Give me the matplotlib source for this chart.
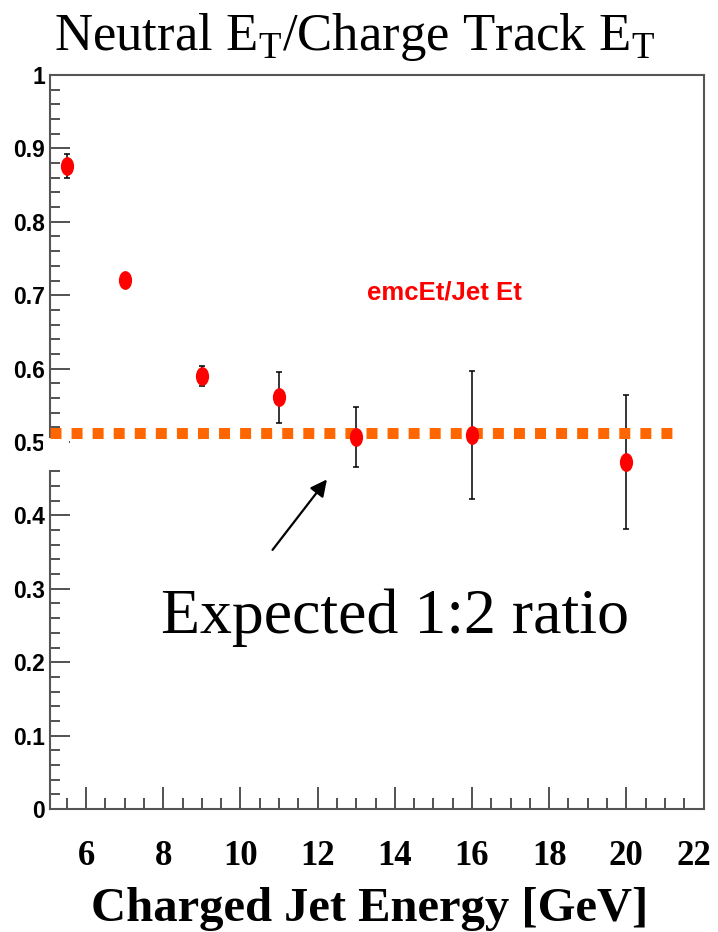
import matplotlib
matplotlib.use("Agg")
import matplotlib.pyplot as plt
from matplotlib.markers import MarkerStyle
from matplotlib.patches import Rectangle
from matplotlib.transforms import Affine2D, ScaledTranslation, blended_transform_factory
from matplotlib.ticker import MultipleLocator, FuncFormatter

# -------------------------------
# Data
# -------------------------------
jet_energy = [5.5, 7.0, 9.0, 11.0, 13.0, 16.0, 20.0]
emc_ratio = [0.876, 0.721, 0.590, 0.561, 0.507, 0.510, 0.473]
emc_err = [0.016, 0.006, 0.014, 0.035, 0.041, 0.087, 0.091]

expected_ratio = 0.512
expected_span = [5.05, 21.3]

# -------------------------------
# Style
# -------------------------------
plt.rcParams["mathtext.fontset"] = "custom"
plt.rcParams["mathtext.rm"] = "Liberation Serif"

serif = "Liberation Serif"
sans = ["Liberation Sans", "DejaVu Sans"]
axis_grey = "#555555"

fig = plt.figure(figsize=(7.18, 9.32), dpi=100)
ax = fig.add_axes([49.5 / 718, 1 - 809 / 932, 654 / 718, 734 / 932])

ax.set_xlim(5.05, 22)
ax.set_ylim(0, 1.0)

# expected 1:2 line
ax.plot(expected_span, [expected_ratio, expected_ratio],
        color="#FF6600", linewidth=7.9, linestyle=(0, (1.0, 0.92)),
        dash_capstyle="butt", zorder=6, clip_on=False)

# points with errors
ax.errorbar(jet_energy, emc_ratio, yerr=emc_err, fmt="none",
            ecolor="black", elinewidth=1.1, capsize=2.5, capthick=1.1,
            zorder=3)
ellipse = MarkerStyle("o", transform=Affine2D().scale(0.68, 1.0))
ax.plot(jet_energy, emc_ratio, linestyle="none", marker=ellipse,
        markersize=12.5, color="red", markeredgecolor="red", zorder=7)

# -------------------------------
# Axes / ticks
# -------------------------------
ax.xaxis.set_major_locator(MultipleLocator(2))
ax.xaxis.set_minor_locator(MultipleLocator(0.5))
ax.yaxis.set_major_locator(MultipleLocator(0.1))
ax.yaxis.set_minor_locator(MultipleLocator(0.02))
ax.yaxis.set_major_formatter(FuncFormatter(lambda v, p: f"{round(v, 2):g}"))
ax.xaxis.set_major_formatter(FuncFormatter(lambda v, p: f"{int(round(v))}"))

ax.tick_params(which="both", direction="in", top=False, right=False,
               width=1.2, color="#333333")
ax.tick_params(axis="y", which="major", length=14.4, pad=3)
ax.tick_params(axis="y", which="minor", length=7.2)
ax.tick_params(axis="x", which="major", length=16, pad=22)
ax.tick_params(axis="x", which="minor", length=8)

for lab in ax.get_yticklabels():
    lab.set_family(sans)
    lab.set_fontweight("bold")
    lab.set_fontsize(16.5)
for lab in ax.get_xticklabels():
    lab.set_family(serif)
    lab.set_fontweight("bold")
    lab.set_fontsize(25)

# last x label sits a little left, inside the frame
fig.canvas.draw()
last = [t for t in ax.get_xticklabels() if t.get_text() == "22"]
for t in last:
    t.set_transform(t.get_transform() + ScaledTranslation(-10 / 100, 0, fig.dpi_scale_trans))

for side in ["left", "bottom", "top", "right"]:
    ax.spines[side].set_color(axis_grey)
    ax.spines[side].set_linewidth(1.5)

# small break in the left axis just under the 0.5 line
gap = blended_transform_factory(ax.transAxes, ax.transData)
ax.add_patch(Rectangle((-0.01, 0.462), 0.04, 0.043, transform=gap,
                       facecolor="white", edgecolor="none", zorder=5,
                       clip_on=False))

# -------------------------------
# Annotations
# -------------------------------
ax.text(15.28, 0.703, "emcEt/Jet Et", color="red", ha="center", va="center",
        fontsize=18.5, fontweight="bold", family=sans)

ax.text(14.0, 0.240, "Expected 1:2 ratio", ha="center", va="baseline",
        fontsize=46, family=serif)

ax.annotate("", xy=(12.24, 0.449), xytext=(10.83, 0.353),
            arrowprops=dict(arrowstyle="-|>", color="black", lw=1.6,
                            mutation_scale=25, shrinkA=0, shrinkB=0))

fig.text(355 / 718, 1 - 50 / 932,
         r"Neutral E$_{\mathregular{T}}$/Charge Track E$_{\mathregular{T}}$",
         ha="center", va="baseline", fontsize=38, family=serif)

fig.text(370 / 718, 1 - 921 / 932, "Charged Jet Energy [GeV]",
         ha="center", va="baseline", fontsize=35, fontweight="bold",
         family=serif)

fig.savefig("out.png", dpi=100)
